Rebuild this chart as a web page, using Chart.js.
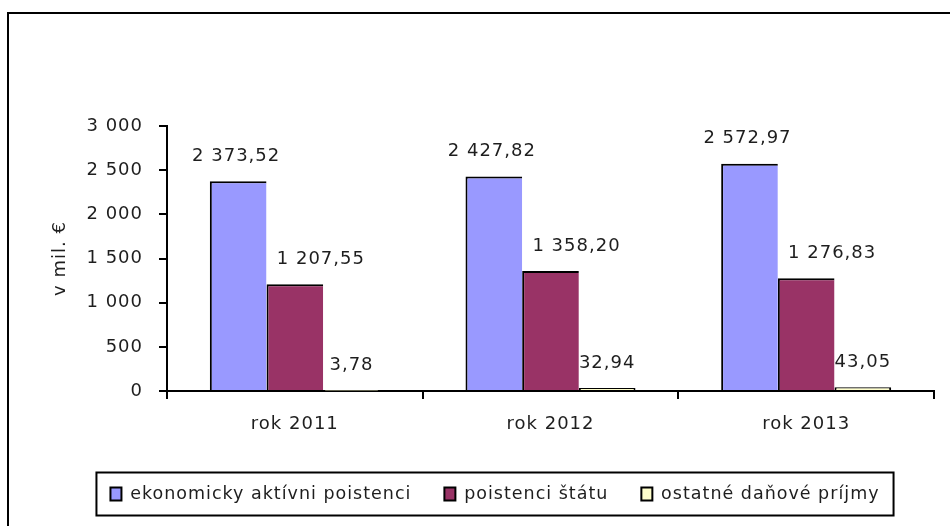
<!DOCTYPE html>
<html>
<head>
<meta charset="utf-8">
<script src="https://cdn.jsdelivr.net/npm/chart.js@4/dist/chart.umd.min.js"></script>
<style>
  html, body { margin: 0; padding: 0; background: #fff; }
  #wrap { width: 950px; height: 526px; }
</style>
</head>
<body>
<div id="wrap"><canvas id="c" width="950" height="526"></canvas></div>
<script>
// Categories and series (v mil. €)
const categories = ['rok 2011', 'rok 2012', 'rok 2013'];
const ekonomickyAktivni = [2373.52, 2427.82, 2572.97];
const poistenciStatu = [1207.55, 1358.20, 1276.83];
const ostatnePrijmy = [3.78, 32.94, 43.05];
const seriesNames = ['ekonomicky aktívni poistenci', 'poistenci štátu', 'ostatné daňové príjmy'];
const yMin = 0, yMax = 3000, yStep = 500;

const FONT = 'DejaVu Sans';
const TEXT = '#1e1e1e';

// Slovak number style: space as thousands separator, comma as decimal mark
function fmt(v, d) {
  const parts = Math.abs(v).toFixed(d).split('.');
  const intPart = parts[0].replace(/\B(?=(\d{3})+(?!\d))/g, ' ');
  return (v < 0 ? '-' : '') + (parts[1] ? intPart + ',' + parts[1] : intPart);
}

// Letter spacing for all canvas text
const spacingPlugin = {
  id: 'spacing',
  beforeUpdate(chart) { chart.ctx.letterSpacing = '1px'; },
  beforeLayout(chart) { chart.ctx.letterSpacing = '1px'; },
  beforeDraw(chart) { chart.ctx.letterSpacing = '1px'; }
};

// White background and the outer frame (left and top edges)
const framePlugin = {
  id: 'frame',
  beforeDraw(chart) {
    const ctx = chart.ctx;
    ctx.save();
    ctx.fillStyle = '#fff';
    ctx.fillRect(0, 0, chart.width, chart.height);
    ctx.strokeStyle = '#000';
    ctx.lineWidth = 2;
    ctx.beginPath();
    ctx.moveTo(8, chart.height + 2);
    ctx.lineTo(8, 13);
    ctx.lineTo(chart.width + 2, 13);
    ctx.stroke();
    ctx.restore();
  }
};

// Box drawn around the legend row
const legendBoxPlugin = {
  id: 'legendBox',
  afterDraw(chart, args, opts) {
    const hb = chart.legend && chart.legend.legendHitBoxes;
    if (!hb || !hb.length) return;
    const first = hb[0], last = hb[hb.length - 1];
    const cy = first.top + first.height / 2;
    const ctx = chart.ctx;
    ctx.save();
    ctx.strokeStyle = '#000';
    ctx.lineWidth = 2;
    ctx.strokeRect(first.left - opts.padLeft, cy - opts.halfHeight,
      (last.left + last.width + opts.padRight) - (first.left - opts.padLeft), opts.halfHeight * 2);
    ctx.restore();
  }
};

// Value labels above the bars
const valueLabelPlugin = {
  id: 'valueLabels',
  afterDatasetsDraw(chart, args, opts) {
    const ctx = chart.ctx;
    ctx.save();
    ctx.font = '18px "' + FONT + '"';
    ctx.fillStyle = TEXT;
    ctx.textAlign = 'center';
    ctx.textBaseline = 'middle';
    chart.data.datasets.forEach((ds, di) => {
      const meta = chart.getDatasetMeta(di);
      meta.data.forEach((el, i) => {
        ctx.fillText(fmt(ds.data[i], 2), el.x + opts.shift[di], el.y - opts.lift);
      });
    });
    ctx.restore();
  }
};

// Each bar carries its left edge; the last one also closes its right edge
const edgeBorders = [
  {top: 2, left: 2, right: 0, bottom: 0},
  {top: 2, left: 2, right: 0, bottom: 0},
  {top: 2, left: 2, right: 2, bottom: 0}
];

new Chart(document.getElementById('c'), {
  type: 'bar',
  data: {
    labels: categories,
    datasets: [
      { label: seriesNames[0], data: ekonomickyAktivni, backgroundColor: '#9999FF', borderColor: '#000', borderWidth: edgeBorders[0], borderSkipped: false },
      { label: seriesNames[1], data: poistenciStatu, backgroundColor: '#993366', borderColor: '#000', borderWidth: edgeBorders[1], borderSkipped: false },
      { label: seriesNames[2], data: ostatnePrijmy, backgroundColor: '#FFFFCC', borderColor: '#000', borderWidth: edgeBorders[2], borderSkipped: false }
    ]
  },
  options: {
    responsive: false,
    animation: false,
    devicePixelRatio: 1,
    categoryPercentage: 0.665,
    barPercentage: 1,
    layout: { padding: { left: 56, right: 16, top: 126, bottom: 13.25 } },
    plugins: {
      tooltip: { enabled: false },
      legend: {
        position: 'bottom',
        labels: {
          font: { family: FONT, size: 17.5 },
          color: TEXT,
          boxWidth: 11,
          boxHeight: 13,
          padding: 33,
          generateLabels(chart) {
            return Chart.defaults.plugins.legend.labels.generateLabels(chart).map(l => {
              l.lineWidth = 2; l.strokeStyle = '#000'; return l;
            });
          }
        }
      },
      legendBox: { padLeft: 14, padRight: 14, halfHeight: 21.5 },
      valueLabels: { shift: [-2, 26, 0], lift: 25 }
    },
    scales: {
      x: {
        grid: { drawOnChartArea: false, offset: true, tickLength: 8, color: '#000', lineWidth: 2 },
        border: { color: '#000', width: 2 },
        ticks: { font: { family: FONT, size: 18 }, color: TEXT, padding: 15, maxRotation: 0 },
        afterFit(scale) { scale.height = 61.25; }
      },
      y: {
        min: yMin, max: yMax,
        grid: { drawOnChartArea: false, tickLength: 8, color: '#000', lineWidth: 2 },
        border: { color: '#000', width: 2 },
        ticks: { stepSize: yStep, font: { family: FONT, size: 18 }, color: TEXT, padding: 16,
          callback: v => fmt(v, 0) },
        title: { display: true, text: 'v mil. €', font: { family: FONT, size: 18 }, color: TEXT,
          padding: { top: -6, bottom: 0 } },
        afterFit(scale) { scale.width = 111; }
      }
    }
  },
  plugins: [spacingPlugin, framePlugin, legendBoxPlugin, valueLabelPlugin]
});
</script>
</body>
</html>
